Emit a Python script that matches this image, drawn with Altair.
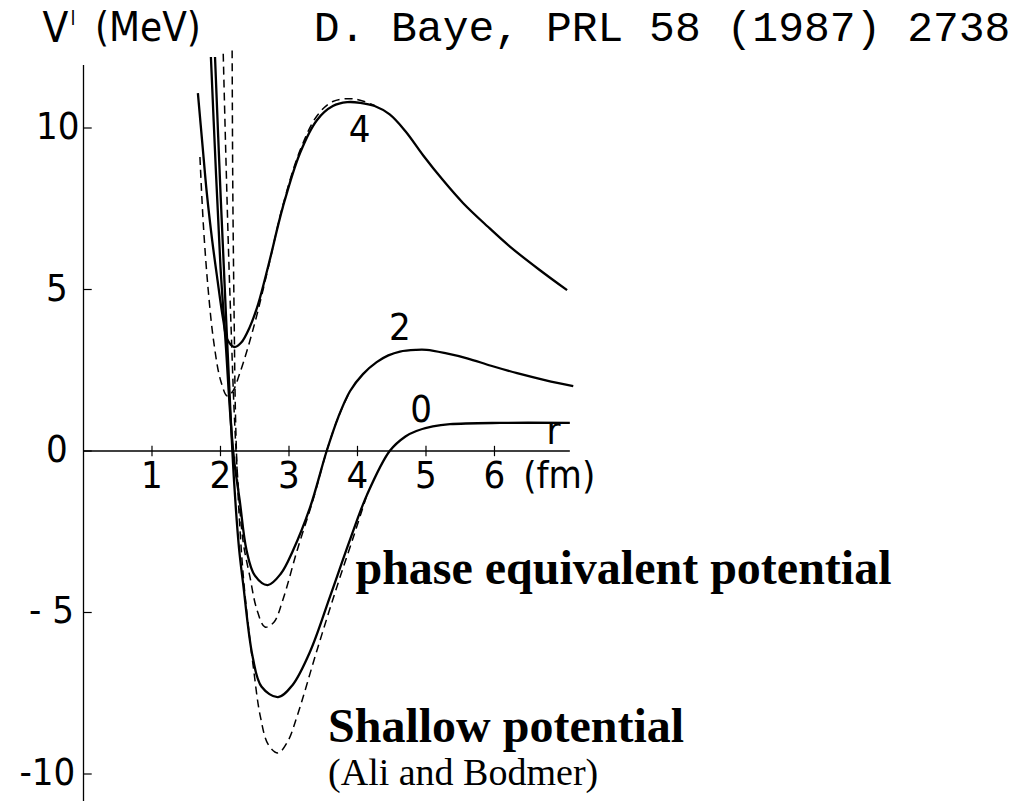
import altair as alt
import pandas as pd

# Potentials V_l(r) in MeV against r in fm
# Solid: phase-equivalent (deep) potentials; dashed: shallow Ali-Bodmer potentials
r_l4_solid = [1.67, 1.74, 1.80, 1.88, 1.95, 2.04, 2.10, 2.20, 2.30, 2.43, 2.55, 2.70, 2.91, 3.16, 3.41, 3.64, 3.85, 4.04, 4.25, 4.47, 4.70, 4.96, 5.25, 5.54, 5.90, 6.23, 6.65, 7.06]
v_l4_solid = [11.08, 9.40, 7.99, 6.50, 5.39, 4.06, 3.45, 3.22, 3.35, 3.85, 4.55, 5.75, 7.55, 9.22, 10.25, 10.68, 10.80, 10.78, 10.68, 10.42, 9.90, 9.15, 8.38, 7.68, 6.95, 6.32, 5.62, 4.98]

r_l4_dash = [1.70, 1.75, 1.82, 1.90, 2.00, 2.10, 2.18, 2.28, 2.40, 2.53, 2.70, 2.91, 3.16, 3.41, 3.64, 3.95, 4.25]
v_l4_dash = [9.10, 7.00, 5.00, 3.40, 2.20, 1.70, 1.85, 2.40, 3.20, 4.20, 5.70, 7.60, 9.30, 10.38, 10.82, 10.90, 10.70]

r_l2_solid = [1.86, 1.93, 2.00, 2.08, 2.14, 2.20, 2.28, 2.38, 2.50, 2.69, 2.88, 3.06, 3.31, 3.55, 3.72, 3.89, 4.08, 4.28, 4.45, 4.62, 4.85, 5.01, 5.30, 5.60, 5.95, 6.33, 6.75, 7.15]
v_l2_solid = [12.20, 8.80, 5.70, 3.20, 1.20, -0.30, -1.52, -3.07, -3.85, -4.15, -3.80, -3.07, -1.73, 0.00, 1.05, 1.85, 2.38, 2.75, 2.96, 3.08, 3.13, 3.13, 3.02, 2.87, 2.64, 2.41, 2.19, 2.01]

r_l2_dash = [2.04, 2.08, 2.12, 2.16, 2.20, 2.25, 2.33, 2.43, 2.53, 2.65, 2.78, 2.91, 3.12, 3.35, 3.55, 3.72, 3.89]
v_l2_dash = [12.30, 9.00, 6.00, 3.50, 1.20, -0.80, -2.80, -3.90, -4.90, -5.45, -5.30, -4.61, -3.07, -1.52, 0.00, 1.05, 1.85]

r_l0_solid = [1.92, 2.00, 2.08, 2.15, 2.20, 2.27, 2.33, 2.47, 2.60, 2.84, 3.05, 3.31, 3.60, 3.89, 4.14, 4.47, 4.70, 4.86, 5.10, 5.35, 6.08, 7.10]
v_l0_solid = [12.20, 8.00, 4.20, 1.00, -1.00, -3.00, -4.10, -6.38, -7.30, -7.62, -7.25, -6.20, -4.50, -2.75, -1.35, 0.00, 0.45, 0.62, 0.76, 0.83, 0.87, 0.87]

r_l0_dash = [2.17, 2.18, 2.20, 2.22, 2.26, 2.33, 2.40, 2.48, 2.58, 2.70, 2.84, 2.98, 3.12, 3.41, 3.70, 3.95, 4.14]
v_l0_dash = [12.40, 8.00, 4.00, 1.00, -1.50, -3.80, -5.30, -6.70, -8.20, -9.10, -9.35, -9.00, -8.20, -6.16, -4.20, -2.60, -1.35]

# Axis layout (data units)
y_axis_range = [-10.84, 11.95]
x_axis_range = [0.0, 7.1]
y_ticks = [10, 5, 0, -5, -10]
y_tick_text = ["10", "5", "0", "- 5", "-10"]
y_tick_label_r = [-0.06, -0.23, -0.23, -0.14, -0.12]
x_ticks = [1, 2, 3, 4, 5, 6]
x_tick_text = ["1", "2", "3", "4", "5", "6"]

# Curve labels (l values)
curve_label_text = ["4", "2", "0"]
curve_label_r = [4.03, 4.62, 4.93]
curve_label_v = [9.91, 3.78, 1.24]

AXIS_FONT = "Liberation Sans Narrow, DejaVu Sans Condensed, DejaVu Sans"
SERIF = "Liberation Serif, Times New Roman, serif"

def frame(r, v, name):
    return pd.DataFrame({"r": r, "V": v, "curve": name})

solid_df = pd.concat([
    frame(r_l4_solid, v_l4_solid, "l4"),
    frame(r_l2_solid, v_l2_solid, "l2"),
    frame(r_l0_solid, v_l0_solid, "l0"),
])
dash_df = pd.concat([
    frame(r_l4_dash, v_l4_dash, "l4"),
    frame(r_l2_dash, v_l2_dash, "l2"),
    frame(r_l0_dash, v_l0_dash, "l0"),
])

# Scales span the whole canvas so that everything shares one coordinate frame
xs = alt.Scale(domain=[-1.219, 13.672], nice=False, zero=False)
ys = alt.Scale(domain=[-10.836, 13.963], nice=False, zero=False)
X = lambda f: alt.X(f, type="quantitative", scale=xs, axis=None)
Y = lambda f: alt.Y(f, type="quantitative", scale=ys, axis=None)

solid = alt.Chart(solid_df).mark_line(
    color="black", strokeWidth=2.3, interpolate="catmull-rom", clip=False
).encode(x=X("r"), y=Y("V"), detail="curve:N")

dashed = alt.Chart(dash_df).mark_line(
    color="black", strokeWidth=1.5, strokeDash=[8, 5], interpolate="catmull-rom", clip=False
).encode(x=X("r"), y=Y("V"), detail="curve:N")

# Axes drawn as rules
y_axis = alt.Chart(pd.DataFrame({"r": [0.0], "v1": [y_axis_range[0]], "v2": [y_axis_range[1]]})).mark_rule(
    color="black", strokeWidth=1.3
).encode(x=X("r"), y=Y("v1"), y2="v2")
x_axis = alt.Chart(pd.DataFrame({"r1": [x_axis_range[0]], "r2": [x_axis_range[1]], "v": [0.0]})).mark_rule(
    color="black", strokeWidth=1.3
).encode(x=X("r1"), x2="r2", y=Y("v"))

y_tick_df = pd.DataFrame({"v": y_ticks, "r1": 0.0, "r2": 0.12, "txt": y_tick_text, "rl": y_tick_label_r})
y_tick_marks = alt.Chart(y_tick_df).mark_rule(color="black", strokeWidth=1.2).encode(
    x=X("r1"), x2="r2", y=Y("v"))
y_tick_labels = alt.Chart(y_tick_df).mark_text(
    font=AXIS_FONT, fontSize=38, align="right", baseline="middle", color="black"
).encode(x=X("rl"), y=Y("v"), text="txt:N")

x_tick_df = pd.DataFrame({"r": x_ticks, "v1": -0.16, "v2": 0.16, "txt": x_tick_text, "vl": -0.80})
x_tick_marks = alt.Chart(x_tick_df).mark_rule(color="black", strokeWidth=1.2).encode(
    x=X("r"), y=Y("v1"), y2="v2")
x_tick_labels = alt.Chart(x_tick_df).mark_text(
    font=AXIS_FONT, fontSize=38, align="center", baseline="middle", color="black"
).encode(x=X("r"), y=Y("vl"), text="txt:N")

curve_labels = alt.Chart(pd.DataFrame({"r": curve_label_r, "V": curve_label_v, "txt": curve_label_text})).mark_text(
    font=AXIS_FONT, fontSize=38, align="center", baseline="middle", color="black"
).encode(x=X("r"), y=Y("V"), text="txt:N")

def note(txt, r, v, font, size, weight="normal", align="left", baseline="alphabetic"):
    return alt.Chart(pd.DataFrame({"r": [r], "V": [v], "txt": [txt]})).mark_text(
        font=font, fontSize=size, fontWeight=weight, align=align, baseline=baseline, color="black"
    ).encode(x=X("r"), y=Y("V"), text="txt:N")

notes = [
    note("V", -0.60, 12.66, AXIS_FONT, 42),
    note("l", -0.19, 13.20, AXIS_FONT, 20),
    note("(MeV)", 0.168, 12.70, AXIS_FONT, 40),
    note("r", 6.86, 0.55, AXIS_FONT, 38, align="center", baseline="middle"),
    note("(fm)", 6.42, -0.80, AXIS_FONT, 38, baseline="middle"),
    note("D. Baye, PRL 58 (1987) 2738", 3.36, 12.69, "Liberation Mono, Courier New, monospace", 43),
    note("phase equivalent potential", 3.97, -4.12, SERIF, 48, weight="bold"),
    note("Shallow potential", 3.57, -9.02, SERIF, 48, weight="bold"),
    note("(Ali and Bodmer)", 3.57, -10.35, SERIF, 38),
]

chart = alt.layer(
    y_axis, x_axis, y_tick_marks, x_tick_marks, dashed, solid,
    y_tick_labels, x_tick_labels, curve_labels, *notes
).properties(
    width=1020, height=801, autosize=alt.AutoSizeParams(type="none"), padding=0,
    background="white"
).configure_view(stroke=None)

chart.save("out.html", embed_options={"renderer": "svg", "actions": False})
